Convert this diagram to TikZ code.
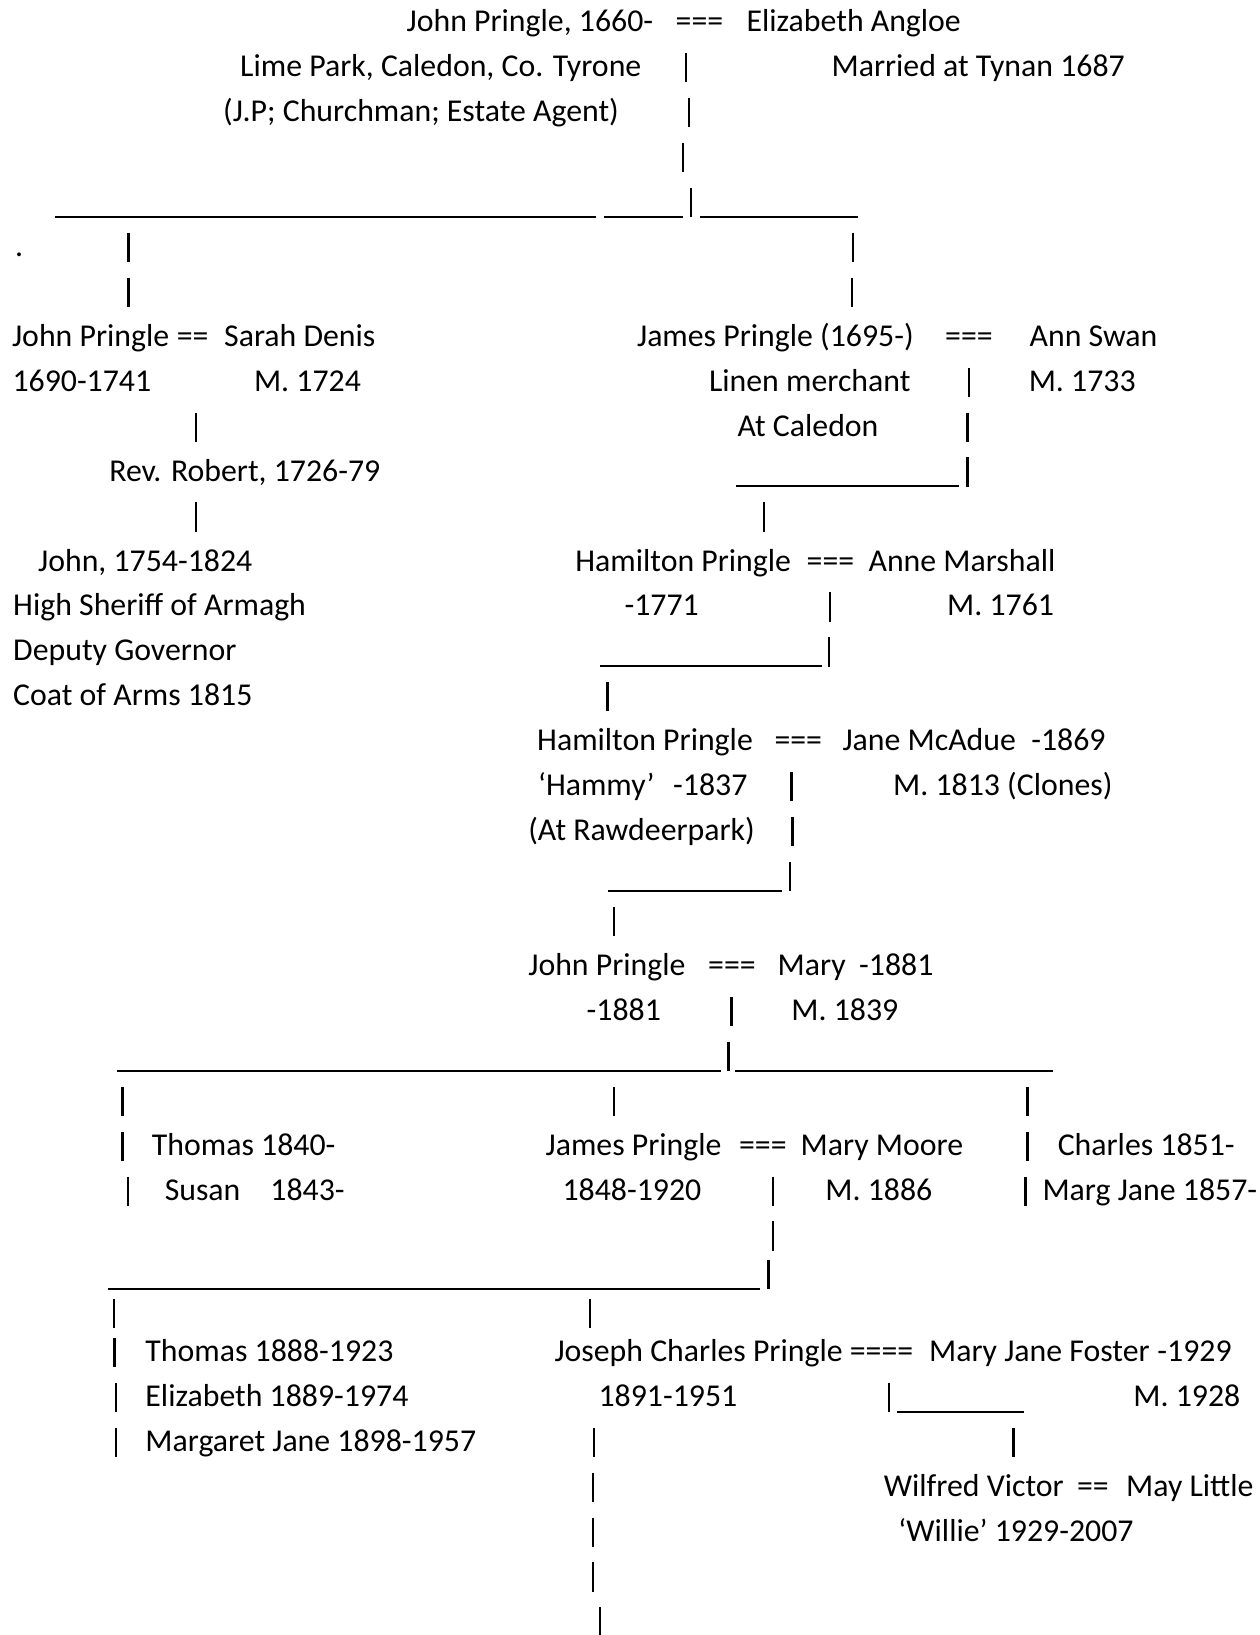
\documentclass[tikz,border=0pt]{standalone}
\usepackage{fontspec}
\setmainfont{Carlito}
\tikzset{
  t/.style={anchor=base west, inner sep=0pt, outer sep=0pt, font=\fontsize{30.5}{36}\selectfont},
  barline/.style={line width=2.2pt, black},
  usline/.style={line width=2pt, black}
}
\newcommand\vbarr[3]{\coordinate (#1t) at (#2,#3-22.7); \coordinate (#1b) at (#2,#3+5.4); \draw[barline] (#1t) -- (#1b);}
\newcommand\uscore[4]{\coordinate (#1l) at (#2,#4+5); \coordinate (#1r) at (#3,#4+5); \draw[usline] (#1l) -- (#1r);}
\begin{document}
\begin{tikzpicture}[x=1pt,y=-1pt]
\path[fill=white] (0,0) rectangle (1208,1568);
\useasboundingbox (0,0) rectangle (1208,1568);
% row 0
\node[t] (a1) at (390,30.4) {John Pringle, 1660-};
\node[t] (a2) at (648,30.4) {===};
\node[t] (a3) at (716,30.4) {Elizabeth Angloe};
% row 1
\node[t] (a4) at (230.4,73.5) {Lime Park, Caledon, Co. Tyrone};
\vbarr{b1}{658}{73.5}
\node[t] (a5) at (797.5,73.5) {Married at Tynan 1687};
% row 2
\node[t] (a6) at (214,116.6) {(J.P; Churchman; Estate Agent)};
\vbarr{b2}{661}{116.6}
% row 3
\vbarr{b3}{655.3}{159.7}
% row 4
\uscore{u1}{52.8}{571.5}{202.8}
\uscore{u2}{579}{655.3}{202.8}
\vbarr{b4}{662.5}{202.8}
\uscore{u3}{671}{822.6}{202.8}
% row 5
\node[t] (a7) at (14.5,245.9) {.};
\vbarr{b5}{123.3}{245.9}
\vbarr{b6}{818}{245.9}
% row 6
\vbarr{b7}{123.3}{289.0}
\vbarr{b8}{817}{289.0}
% row 7
\node[t] (c1) at (11.6,332.1) {John Pringle};
\node[t] (c2) at (169.6,332.1) {==};
\node[t] (c3) at (215,332.1) {Sarah Denis};
\node[t] (c4) at (611,332.1) {James Pringle (1695-)};
\node[t] (c5) at (906.5,332.1) {===};
\node[t] (c6) at (987.5,332.1) {Ann Swan};
% row 8
\node[t] (c7) at (12,375.2) {1690-1741};
\node[t] (c8) at (243.6,375.2) {M. 1724};
\node[t] (c9) at (680,375.2) {Linen merchant};
\vbarr{b9}{929.6}{375.2}
\node[t] (c10) at (986.6,375.2) {M. 1733};
% row 9
\vbarr{b10}{187.7}{418.3}
\node[t] (c11) at (707.3,418.3) {At Caledon};
\vbarr{b11}{927.7}{418.3}
% row 10
\node[t] (c12) at (104.8,461.4) {Rev. Robert, 1726-79};
\uscore{u4}{706}{920}{461.4}
\vbarr{b12}{927.7}{461.4}
% row 11
\vbarr{b13}{187.7}{504.5}
\vbarr{b14}{733}{504.5}
% row 12
\node[t] (d1) at (36.6,547.6) {John, 1754-1824};
\node[t] (d2) at (551.8,547.6) {Hamilton Pringle};
\node[t] (d3) at (773.6,547.6) {===};
\node[t] (d4) at (833,547.6) {Anne Marshall};
% row 13
\node[t] (d5) at (12.7,590.7) {High Sheriff of Armagh};
\node[t] (d6) at (599,590.7) {-1771};
\vbarr{b15}{795.8}{590.7}
\node[t] (d7) at (908.4,590.7) {M. 1761};
% row 14
\node[t] (d8) at (12.7,633.8) {Deputy Governor};
\uscore{u5}{575.3}{788}{633.8}
\vbarr{b16}{795}{633.8}
% row 15
\node[t] (d9) at (12.7,676.9) {Coat of Arms 1815};
\vbarr{b17}{582.7}{676.9}
% row 16
\node[t] (e1) at (515.2,720) {Hamilton Pringle};
\node[t] (e2) at (742.8,720) {===};
\node[t] (e3) at (808,720) {Jane McAdue};
\node[t] (e4) at (989,720) {-1869};
% row 17
\node[t] (e5) at (516,763.1) {‘Hammy’};
\node[t] (e6) at (645.6,763.1) {-1837};
\vbarr{b18}{759}{763.1}
\node[t] (e7) at (856.5,763.1) {M. 1813 (Clones)};
% row 18
\node[t] (e8) at (506.7,806.2) {(At Rawdeerpark)};
\vbarr{b19}{760}{806.2}
% row 19
\uscore{u6}{582.7}{749.7}{849.3}
\vbarr{b20}{757.5}{849.3}
% row 20
\vbarr{b21}{588.8}{892.4}
% row 21
\node[t] (f1) at (506.7,935.5) {John Pringle};
\node[t] (f2) at (679.2,935.5) {===};
\node[t] (f3) at (745.8,935.5) {Mary};
\node[t] (f4) at (824,935.5) {-1881};
% row 22
\node[t] (f5) at (562.6,978.6) {-1881};
\vbarr{b22}{701.5}{978.6}
\node[t] (f6) at (759,978.6) {M. 1839};
% row 23
\uscore{u7}{111.8}{691.9}{1021.7}
\vbarr{b23}{698.5}{1021.7}
\uscore{u8}{705}{1009.4}{1021.7}
% row 24
\vbarr{b24}{117.5}{1064.8}
\vbarr{b25}{588.8}{1064.8}
\vbarr{b26}{985.5}{1064.8}
% row 25
\vbarr{b27}{117.5}{1107.9}
\node[t] (g1) at (145.7,1107.9) {Thomas 1840-};
\node[t] (g2) at (523.3,1107.9) {James Pringle};
\node[t] (g3) at (708.8,1107.9) {===};
\node[t] (g4) at (767.8,1107.9) {Mary Moore};
\vbarr{b28}{985.5}{1107.9}
\node[t] (g5) at (1014.4,1107.9) {Charles 1851-};
% row 26
\vbarr{b29}{122.5}{1151}
\node[t] (g6) at (158,1151) {Susan};
\node[t] (g7) at (259.3,1151) {1843-};
\node[t] (g8) at (539.5,1151) {1848-1920};
\vbarr{b30}{741.6}{1151}
\node[t] (g9) at (791.6,1151) {M. 1886};
\vbarr{b31}{983.6}{1151}
\node[t] (g10) at (999.8,1151) {Marg Jane 1857-};
% row 27
\vbarr{b32}{741.6}{1194.1}
% row 28
\uscore{u9}{104}{729.2}{1231}
\vbarr{b33}{737}{1231}
% row 29
\vbarr{b34}{109}{1268}
\vbarr{b35}{565.7}{1268}
% T1
\vbarr{b36}{109.9}{1305.6}
\node[t] (h1) at (139.5,1305.6) {Thomas 1888-1923};
\node[t] (h2) at (531.8,1305.6) {Joseph Charles Pringle};
\node[t] (h3) at (815,1305.6) {====};
\node[t] (h4) at (891,1305.6) {Mary Jane Foster};
\node[t] (h5) at (1110,1305.6) {-1929};
% T2
\vbarr{b37}{111}{1348.7}
\node[t] (h6) at (139.5,1348.7) {Elizabeth 1889-1974};
\node[t] (h7) at (574,1348.7) {1891-1951};
\vbarr{b38}{852.5}{1348.7}
\uscore{u10}{860}{981.7}{1348.7}
\node[t] (h8) at (1086.9,1348.7) {M. 1928};
% T3
\vbarr{b39}{111}{1391.8}
\node[t] (h9) at (139.5,1391.8) {Margaret Jane 1898-1957};
\vbarr{b40}{569.5}{1391.8}
\vbarr{b41}{972}{1391.8}
% T4
\vbarr{b42}{568.5}{1434.9}
\node[t] (k1) at (847.6,1434.9) {Wilfred Victor};
\node[t] (k2) at (1032.9,1434.9) {==};
\node[t] (k3) at (1080,1434.9) {May Little};
% T5
\vbarr{b43}{568.5}{1478}
\node[t] (k4) at (861.5,1478) {‘Willie’ 1929-2007};
% T6
\vbarr{b44}{568.5}{1521.1}
% T7
\vbarr{b45}{575.3}{1564.2}
\end{tikzpicture}
\end{document}
